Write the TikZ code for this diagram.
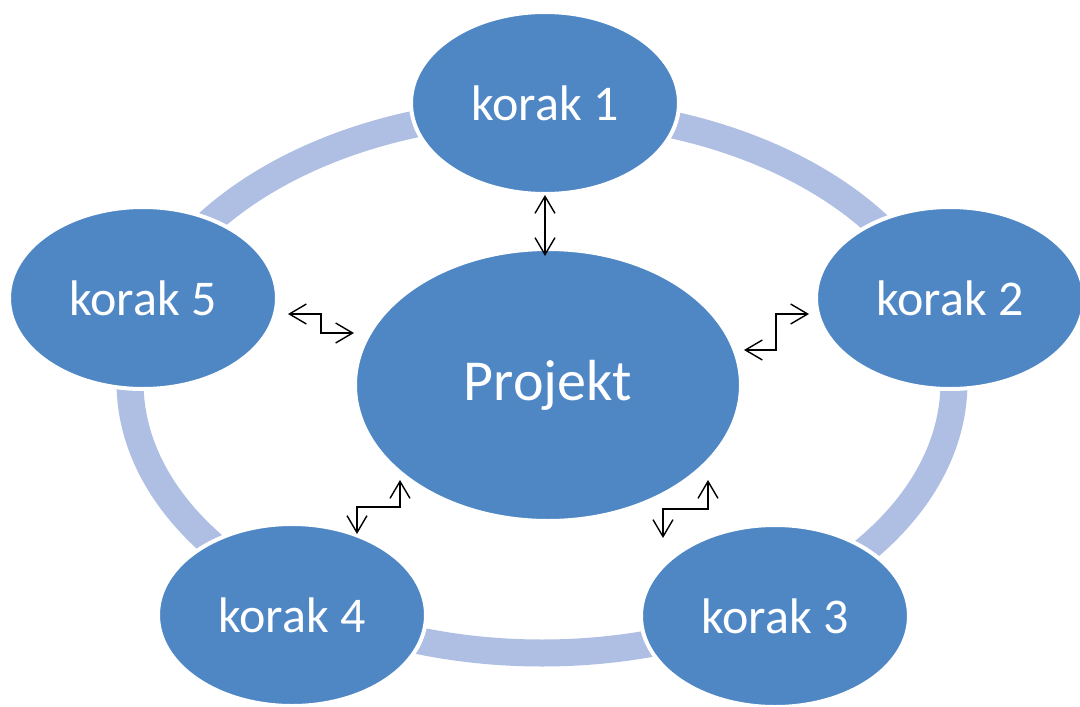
\documentclass[tikz,border=0pt]{standalone}
\usepackage{fontspec}
\setmainfont{Carlito}
\usetikzlibrary{shapes.geometric,arrows.meta}
\definecolor{nodeblue}{HTML}{4F87C5}
\definecolor{ringblue}{HTML}{AEBFE3}
\tikzset{
  stepnode/.style={ellipse, fill=nodeblue, draw=white, line width=4pt, inner sep=0pt,
    minimum width=268pt, minimum height=182pt, text=white, font=\fontsize{50}{55}\selectfont},
  centernode/.style={ellipse, fill=nodeblue, draw=white, line width=4pt, inner sep=0pt,
    minimum width=386pt, minimum height=272pt, text=white, font=\fontsize{58}{63}\selectfont},
  ring/.style={draw=ringblue, line width=27pt},
  link/.style={draw=black, line width=1.4pt, {Straight Barb[length=17pt,width=20pt]}-{Straight Barb[length=17pt,width=20pt]}}
}
\begin{document}
\begin{tikzpicture}[x=1pt,y=-1pt]
\useasboundingbox (0,0) rectangle (1080,707);
\fill[white] (0,0) rectangle (1080,707);
\draw[ring] (542,382) ellipse [x radius=412pt, y radius=271pt];
\node[stepnode] (k1) at (545,103) {korak 1};
\node[stepnode] (k2) at (950,298) {korak 2};
\node[stepnode] (k3) at (775,616) {korak 3};
\node[stepnode] (k4) at (292,615) {korak 4};
\node[stepnode] (k5) at (143,298) {korak 5};
\node[centernode] (p) at (548,385) {Projekt};
\coordinate (a1s) at (545,195);
\coordinate (a1e) at (545,256);
\draw[link] (a1s) -- (a1e);
\coordinate (a5s) at (288,314);
\coordinate (a5e) at (354,333);
\draw[link] (a5s) -- (321,314) -- (321,333) -- (a5e);
\coordinate (a2s) at (809,314);
\coordinate (a2e) at (744,350);
\draw[link] (a2s) -- (776,314) -- (776,350) -- (a2e);
\coordinate (a4s) at (400,480);
\coordinate (a4e) at (357,534);
\draw[link] (a4s) -- (400,507) -- (357,507) -- (a4e);
\coordinate (a3s) at (708,480);
\coordinate (a3e) at (663,538);
\draw[link] (a3s) -- (708,509) -- (663,509) -- (a3e);
\end{tikzpicture}
\end{document}
